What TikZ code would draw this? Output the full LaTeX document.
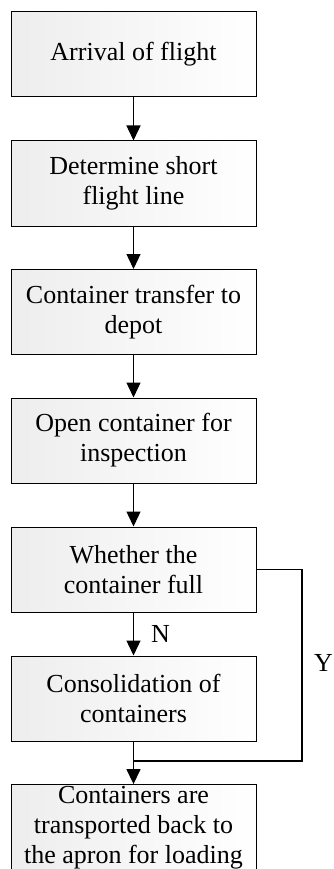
\documentclass[tikz,border=0pt]{standalone}
\usepackage{fontspec}
\setmainfont{Liberation Serif}
\usepackage{tikz}
\usetikzlibrary{positioning,arrows.meta,calc}

\begin{document}
\begin{tikzpicture}[
  x=1pt, y=-1pt,
  font=\fontsize{26}{30}\selectfont,
  box/.style={draw, line width=1pt, align=center, inner sep=2pt, minimum width=245pt, minimum height=85pt, left color=gray!14, right color=white},
  arr/.style={-{Triangle[length=15pt, width=14pt]}, line width=1.3pt},
  lab/.style={inner sep=0pt, anchor=west}]
\useasboundingbox (0,0) rectangle (333,869);

\node[box] (arrive) at (133.5,54.5) {Arrival of flight};
\node[box] (line) at (133.5,183.5) {Determine short\\flight line};
\node[box] (transfer) at (133.5,312) {Container transfer to\\depot};
\node[box] (open) at (133.5,440.5) {Open container for\\inspection};
\node[box] (full) at (133.5,569.5) {Whether the\\container full};
\node[box] (consol) at (133.5,698.5) {Consolidation of\\containers};
\node[box] (back) at (133.5,828) {Containers are\\transported back to\\the apron for loading};

\coordinate (join) at (133.5,761);
\coordinate (turn) at (302,761);

\draw[arr] (arrive) -- (line);
\draw[arr] (line) -- (transfer);
\draw[arr] (transfer) -- (open);
\draw[arr] (open) -- (full);
\draw[arr] (full) -- node[lab, right=17pt] {N} (consol);
\draw[arr] (consol) -- (back);
\draw[line width=1.3pt] (full.east) -| (turn) -- (join);
\node[lab] (yes) at (314,663) {Y};
\end{tikzpicture}
\end{document}
